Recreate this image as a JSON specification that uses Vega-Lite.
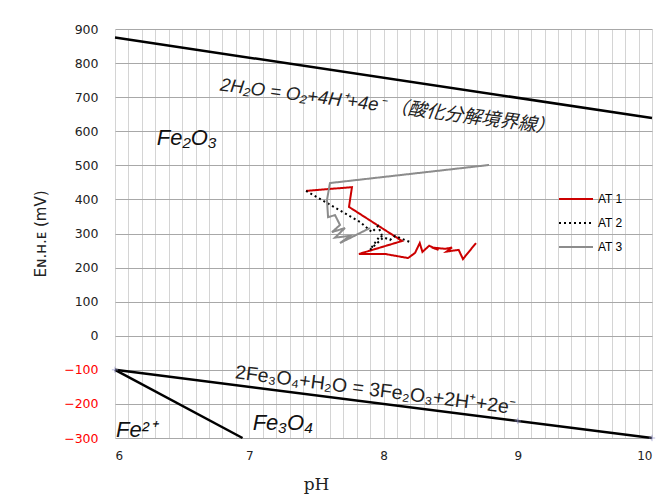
{
  "$schema": "https://vega.github.io/schema/vega-lite/v6.json",
  "width": 537,
  "height": 409,
  "autosize": "none",
  "padding": {"left": 115, "top": 29, "right": 16, "bottom": 66},
  "background": "white",
  "config": {
    "view": {"stroke": null},
    "font": "Liberation Sans"
  },
  "datasets": {
    "bounds": [
      {"line": "O2", "pH": 6, "E": 875},
      {"line": "O2", "pH": 10, "E": 639},
      {"line": "Fe", "pH": 6, "E": -100},
      {"line": "Fe", "pH": 10, "E": -300},
      {"line": "Fe2", "pH": 6, "E": -100},
      {"line": "Fe2", "pH": 6.95, "E": -300}
    ],
    "marks": [
      {"pH": 6, "E": -100},
      {"pH": 9, "E": -250},
      {"pH": 10, "E": -300}
    ],
    "series": [
      {"run": "AT 1", "i": 1, "pH": 7.423, "E": 425},
      {"run": "AT 1", "i": 2, "pH": 7.765, "E": 436},
      {"run": "AT 1", "i": 3, "pH": 7.743, "E": 378},
      {"run": "AT 1", "i": 4, "pH": 8.138, "E": 278},
      {"run": "AT 1", "i": 5, "pH": 7.817, "E": 240},
      {"run": "AT 1", "i": 6, "pH": 8.011, "E": 240},
      {"run": "AT 1", "i": 7, "pH": 8.183, "E": 228},
      {"run": "AT 1", "i": 8, "pH": 8.235, "E": 243},
      {"run": "AT 1", "i": 9, "pH": 8.27, "E": 272},
      {"run": "AT 1", "i": 10, "pH": 8.29, "E": 246},
      {"run": "AT 1", "i": 11, "pH": 8.34, "E": 264},
      {"run": "AT 1", "i": 12, "pH": 8.41, "E": 252},
      {"run": "AT 1", "i": 13, "pH": 8.36, "E": 259},
      {"run": "AT 1", "i": 14, "pH": 8.46, "E": 255},
      {"run": "AT 1", "i": 15, "pH": 8.51, "E": 259},
      {"run": "AT 1", "i": 16, "pH": 8.47, "E": 247},
      {"run": "AT 1", "i": 17, "pH": 8.56, "E": 252},
      {"run": "AT 1", "i": 18, "pH": 8.592, "E": 225},
      {"run": "AT 1", "i": 19, "pH": 8.689, "E": 272},
      {"run": "AT 2", "i": 1, "pH": 7.423, "E": 425},
      {"run": "AT 2", "i": 2, "pH": 7.825, "E": 334},
      {"run": "AT 2", "i": 3, "pH": 7.914, "E": 304},
      {"run": "AT 2", "i": 4, "pH": 7.959, "E": 322},
      {"run": "AT 2", "i": 5, "pH": 7.996, "E": 287},
      {"run": "AT 2", "i": 6, "pH": 7.937, "E": 266},
      {"run": "AT 2", "i": 7, "pH": 7.899, "E": 252},
      {"run": "AT 2", "i": 8, "pH": 7.974, "E": 293},
      {"run": "AT 2", "i": 9, "pH": 8.048, "E": 281},
      {"run": "AT 2", "i": 10, "pH": 8.086, "E": 293},
      {"run": "AT 2", "i": 11, "pH": 8.197, "E": 275},
      {"run": "AT 3", "i": 1, "pH": 8.786, "E": 501},
      {"run": "AT 3", "i": 2, "pH": 7.601, "E": 448},
      {"run": "AT 3", "i": 3, "pH": 7.579, "E": 398},
      {"run": "AT 3", "i": 4, "pH": 7.587, "E": 348},
      {"run": "AT 3", "i": 5, "pH": 7.639, "E": 354},
      {"run": "AT 3", "i": 6, "pH": 7.676, "E": 325},
      {"run": "AT 3", "i": 7, "pH": 7.616, "E": 304},
      {"run": "AT 3", "i": 8, "pH": 7.713, "E": 316},
      {"run": "AT 3", "i": 9, "pH": 7.639, "E": 288},
      {"run": "AT 3", "i": 10, "pH": 7.750, "E": 293},
      {"run": "AT 3", "i": 11, "pH": 7.676, "E": 272},
      {"run": "AT 3", "i": 12, "pH": 7.899, "E": 316}
    ]
  },
  "encoding": {
    "x": {
      "field": "pH", "type": "quantitative",
      "scale": {"domain": [6, 10], "nice": false, "zero": false},
      "axis": {
        "title": "pH",
        "titleFont": "DejaVu Serif",
        "titleFontSize": 17,
        "titleFontWeight": "normal",
        "titleColor": "#222",
        "titleX": 201,
        "titleY": 38,
        "values": [6,6.1,6.2,6.3,6.4,6.5,6.6,6.7,6.8,6.9,7,7.1,7.2,7.3,7.4,7.5,7.6,7.7,7.8,7.9,8,8.1,8.2,8.3,8.4,8.5,8.6,8.7,8.8,8.9,9,9.1,9.2,9.3,9.4,9.5,9.6,9.7,9.8,9.9,10],
        "labelExpr": "abs(datum.value - round(datum.value)) < 0.01 ? format(datum.value, 'd') : ''",
        "labelFont": "DejaVu Sans",
        "labelFontSize": 12,
        "labelColor": "#222",
        "labelPadding": 12,
        "labelOverlap": false,
        "ticks": false,
        "domain": false,
        "grid": true,
        "gridColor": "#d4d4d4",
        "gridWidth": 1
      }
    },
    "y": {
      "field": "E", "type": "quantitative",
      "scale": {"domain": [-300, 900], "nice": false, "zero": false},
      "axis": {
        "title": "Eɴ.ʜ.ᴇ (mV)",
        "titleFont": "DejaVu Sans",
        "titleFontSize": 15,
        "titleFontWeight": "normal",
        "titleColor": "#222",
        "titlePadding": 15,
        "values": [-300,-200,-100,0,100,200,300,400,500,600,700,800,900],
        "labelFont": "DejaVu Sans",
        "labelFontSize": 12.5,
        "labelColor": {"condition": {"test": "datum.value < 0", "value": "#ff0000"}, "value": "#222"},
        "labelPadding": 17,
        "ticks": false,
        "domain": false,
        "grid": true,
        "gridColor": "#a8a8a8",
        "gridWidth": 1.2
      }
    }
  },
  "layer": [
    {
      "data": {"name": "bounds"},
      "mark": {"type": "line", "color": "#000", "strokeWidth": 2.5},
      "encoding": {"detail": {"field": "line"}}
    },
    {
      "data": {"name": "marks"},
      "mark": {"type": "point", "shape": "M-1,0H1M0,-1V1", "size": 40, "color": "#9a9ad0", "strokeWidth": 1, "filled": false}
    },
    {
      "data": {"name": "series"},
      "mark": {"type": "line", "strokeWidth": 2},
      "encoding": {
        "order": {"field": "i", "type": "quantitative"},
        "color": {
          "field": "run", "type": "nominal",
          "scale": {"domain": ["AT 1", "AT 2", "AT 3"], "range": ["#cc0000", "#000000", "#8c8c8c"]},
          "legend": {
            "title": null, "orient": "none", "legendX": 443, "legendY": 152,
            "symbolType": "stroke", "symbolSize": 1156, "symbolStrokeWidth": 2,
            "rowPadding": -17, "labelOffset": 4, "labelFontSize": 12, "labelColor": "#000",
            "labelFont": "Liberation Sans"
          }
        },
        "strokeDash": {
          "field": "run", "type": "nominal",
          "scale": {"domain": ["AT 1", "AT 2", "AT 3"], "range": [[1, 0], [2, 3], [1, 0]]},
          "legend": {
            "title": null, "orient": "none", "legendX": 443, "legendY": 152,
            "symbolType": "stroke", "symbolSize": 1156, "symbolStrokeWidth": 2,
            "rowPadding": -17, "labelOffset": 4, "labelFontSize": 12, "labelColor": "#000",
            "labelFont": "Liberation Sans"
          }
        }
      }
    },
    {
      "data": {"values": [{"pH": 8.03, "E": 674, "label": "2H₂O = O₂+4H⁺+4e⁻ （酸化分解境界線）"}]},
      "mark": {"type": "text", "angle": 7.3, "fontSize": 18.5, "fontStyle": "italic", "font": "Liberation Sans, Noto Sans CJK JP", "color": "#222", "align": "center", "baseline": "middle"},
      "encoding": {"text": {"field": "label"}}
    },
    {
      "data": {"values": [{"pH": 7.94, "E": -160, "label": "2Fe₃O₄+H₂O = 3Fe₂O₃+2H⁺+2e⁻"}]},
      "mark": {"type": "text", "angle": 7.3, "fontSize": 19.5, "font": "Liberation Sans", "color": "#222", "align": "center", "baseline": "middle"},
      "encoding": {"text": {"field": "label"}}
    },
    {
      "data": {"values": [
        {"pH": 6.534, "E": 579, "label": "Fe₂O₃"},
        {"pH": 7.25, "E": -256, "label": "Fe₃O₄"},
        {"pH": 6.156, "E": -277, "label": "Fe²⁺"}
      ]},
      "mark": {"type": "text", "fontSize": 22, "fontStyle": "italic", "font": "Liberation Sans", "color": "#111", "align": "center", "baseline": "middle"},
      "encoding": {"text": {"field": "label"}}
    }
  ]
}
